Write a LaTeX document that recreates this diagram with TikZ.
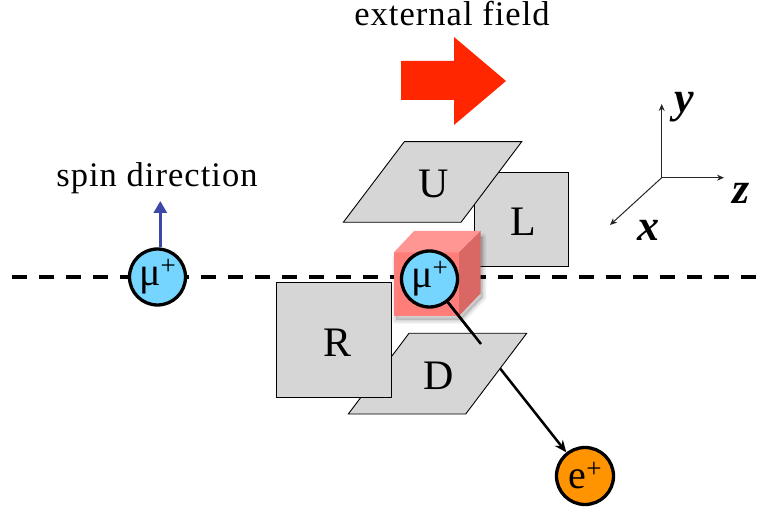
\documentclass[tikz,border=0pt]{standalone}
\usepackage{fontspec}
\setmainfont{Liberation Serif}
\newfontfamily\capfont[LetterSpace=3]{Liberation Serif}
\usetikzlibrary{arrows.meta}
\definecolor{panelgray}{RGB}{214,214,214}
\definecolor{muonblue}{RGB}{117,213,255}
\definecolor{posorange}{RGB}{255,147,0}
\definecolor{spinblue}{RGB}{62,72,168}
\definecolor{fieldred}{RGB}{255,38,0}
\definecolor{cubefront}{RGB}{255,126,121}
\definecolor{cubetop}{RGB}{255,150,147}
\definecolor{cubeside}{RGB}{217,104,100}
\tikzset{
  x=1pt,y=-1pt,
  panel/.style={draw=black,line width=0.9pt,fill=panelgray},
  panellabel/.style={font=\fontsize{42}{42}\selectfont,text=black,inner sep=0pt},
  caption/.style={font=\capfont\fontsize{34.5}{36}\selectfont,inner sep=0pt},
  particle/.style={circle,draw=black,line width=3.3pt,minimum size=56pt,inner sep=0pt,font=\fontsize{40}{40}\selectfont},
  axis/.style={draw=black!85,line width=1pt,-{Stealth[length=7pt,width=6pt]}},
  axislabel/.style={font=\fontsize{44}{44}\selectfont\bfseries\itshape,inner sep=0pt},
  track/.style={draw=black,line width=2.5pt}
}
\newcommand{\sgn}{\raisebox{11pt}{\fontsize{27}{27}\selectfont +}}
\begin{document}
\begin{tikzpicture}
\useasboundingbox (0,0) rectangle (760,510);
% beam line
\coordinate (beamstart) at (12,277);
\coordinate (beamend) at (760,277);
\draw[line width=3.8pt,dash pattern=on 15pt off 12pt] (beamstart) -- (beamend);
% field arrow
\fill[fieldred] (401,61) -- (454,61) -- (454,37) -- (506,81) -- (454,125) -- (454,100) -- (401,100) -- cycle;
\node[caption] (fieldlabel) at (452,14) {external field};
% L panel
\node[panel,minimum width=93.6pt,minimum height=94.3pt,inner sep=0pt,outer sep=0pt] (Lpanel) at (521.5,219.8) {};
\node[panellabel] (Ltext) at (523,222) {L};
% cube shadow
\foreach \w in {1,...,5}{
  \fill[black,opacity=0.03,line join=round]
    (396,320) -- (461,320) -- (482.7,297.3) -- (482.7,237) -- (416,237) -- (396,258) -- cycle;
  \draw[black,opacity=0.03,line width=\w*1.6pt,line join=round]
    (396,320) -- (461,320) -- (482.7,297.3) -- (482.7,237) -- (416,237) -- (396,258) -- cycle;
}
% cube
\fill[cubefront] (394,252.3) rectangle (459,316);
\fill[cubetop] (394,252.3) -- (414,231) -- (480.7,231) -- (459,252.3) -- cycle;
\fill[cubeside] (459,252.3) -- (480.7,231) -- (480.7,293.3) -- (459,316) -- cycle;
% particles
\node[particle,fill=muonblue] (muleft) at (157.5,277) {μ\sgn};
\node[particle,fill=muonblue] (mucube) at (429.5,279) {μ\sgn};
\node[particle,fill=posorange,minimum size=57pt] (eplus) at (585,476) {e\sgn};
% decay track, passing behind D
\draw[track,-{Stealth[length=12pt,width=10pt]}] (mucube) -- (eplus);
% D panel
\draw[panel] (409,333.3) -- (526.7,333.3) -- (465.7,414) -- (348.3,414) -- cycle;
\node[panellabel] (Dtext) at (439,376) {D};
% short visible part of track above D
\coordinate (trackstop) at (481,344);
\draw[track] (mucube) -- (trackstop);
% R panel
\node[panel,minimum width=114.6pt,minimum height=115pt,inner sep=0pt,outer sep=0pt] (Rpanel) at (334,339.8) {};
\node[panellabel] (Rtext) at (338,343) {R};
% U panel
\draw[panel] (404.3,141.7) -- (521.7,141.7) -- (461,222.3) -- (343.3,222.3) -- cycle;
\node[panellabel] (Utext) at (434,184) {U};
% spin
\coordinate (spintip) at (160.3,201);
\draw[spinblue,line width=3.2pt,-{Triangle[length=12pt,width=13pt]}] (muleft.north -| spintip) -- (spintip);
\node[caption] (spinlabel) at (157,178.5) {spin direction};
% axes
\coordinate (origin) at (661.7,177.7);
\coordinate (ytip) at (661.7,104);
\coordinate (ztip) at (724,177.7);
\coordinate (xtip) at (610,225);
\draw[axis] (origin) -- (ytip);
\draw[axis] (origin) -- (ztip);
\draw[axis] (origin) -- (xtip);
\node[axislabel] (ylab) at (684,107) {y};
\node[axislabel] (zlab) at (741,193) {z};
\node[axislabel] (xlab) at (648,230) {x};
\end{tikzpicture}
\end{document}
